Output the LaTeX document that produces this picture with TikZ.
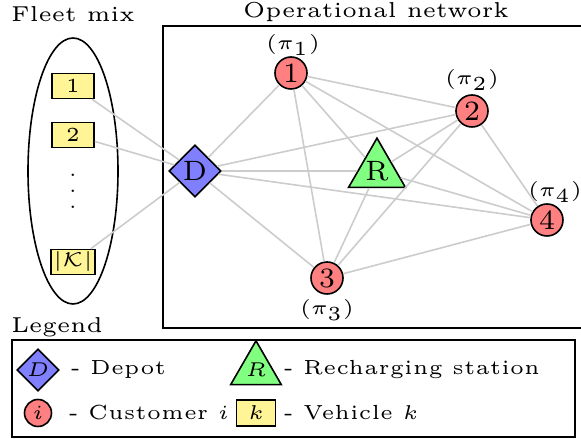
\documentclass[tikz,border=0pt]{standalone}
\usepackage{amsmath}
\usepackage{amsfonts}
\usepackage{fontspec}
\usepackage{tikz}
\usetikzlibrary{shapes.geometric}

\newfontfamily\labelfont{lmroman5-regular}[Extension=.otf]
\newcommand{\lbl}{\fontsize{5.4}{6.5}\selectfont\labelfont}
\newcommand{\legendtxt}{\fontsize{5.1}{6.5}\selectfont\labelfont\addfontfeature{LetterSpace=2}}

\definecolor{vehyellow}{RGB}{255,245,150}

\tikzset{
	customer/.style={circle, draw, fill=red!50, minimum size=8pt, inner sep=0pt, font=\scriptsize},
	depot/.style={diamond, draw, fill=blue!50, minimum size=13pt, inner sep=0pt, font=\scriptsize},
	station/.style={regular polygon, regular polygon sides=3, draw, fill=green!50, minimum size=14.7pt, inner sep=0pt, font=\scriptsize},
	vehicle/.style={rectangle, draw, fill=vehyellow, minimum width=10.5pt, minimum height=6.25pt, inner sep=0.5pt, font=\tiny},
	link/.style={draw=black!20, line width=0.4pt},
	caption/.style={font=\lbl, inner sep=0pt},
	legendtext/.style={font=\legendtxt, inner sep=0pt, anchor=west}
}

\begin{document}
\begin{tikzpicture}[x=0.25pt,y=0.25pt]
				\useasboundingbox (0,0) rectangle (581,439);
				% fleet mix
				\node[caption] (fleetlbl) at (73,425) {Fleet mix};
				\draw (73,268) ellipse [x radius=45, y radius=133];
				\node[vehicle] (v1) at (73,353) {1};
				\node[vehicle] (v2) at (73,304) {2};
				\node[font=\tiny, inner sep=0pt] (vdots) at (73,260) {$\vdots$};
				\node[vehicle] (vK) at (73,177) {$|\mathcal{K}|$};
				% operational network
				\node[caption] (netlbl) at (376,427) {Operational network};
				\draw (163,413) rectangle (582,111);
				\node[depot] (D) at (195,268) {D};
				\node[station] (R) at (377,268) {R};
				\node[customer] (c1) at (291,366) {1};
				\node[customer] (c2) at (472,328) {2};
				\node[customer] (c3) at (327,161) {3};
				\node[customer] (c4) at (547,219) {4};
				\node[caption, font=\tiny] (p1) at (293,394) {$(\pi_1)$};
				\node[caption, font=\tiny] (p2) at (472,359) {$(\pi_2)$};
				\node[caption, font=\tiny] (p3) at (327,129) {$(\pi_3)$};
				\node[caption, font=\tiny] (p4) at (555,247) {$(\pi_4)$};
				% vehicles leave from the depot
				\foreach \v in {v1,v2,vK}
					\draw[link] (\v) -- (D);
				% every pair of network nodes is linked
				\foreach \a/\b in {D/c1,D/c2,D/c3,D/c4,D/R,c1/c2,c1/c3,c1/c4,c1/R,c2/c3,c2/c4,c2/R,c3/c4,c3/R,c4/R}
					\draw[link] (\a) -- (\b);
				% legend
				\node[caption] (leglbl) at (57,112) {Legend};
				\draw (12,99) rectangle (575,2);
				\node[depot, minimum size=10.5pt, font=\tiny] (lD) at (38,69) {$D$};
				\node[legendtext] at (70,69) {- Depot};
				\node[station, minimum size=12pt, font=\tiny] (lR) at (256,69) {$R$};
				\node[legendtext] at (283,69) {- Recharging station};
				\node[customer, minimum size=6.75pt, font=\tiny] (li) at (38,26) {$i$};
				\node[legendtext] at (68,26) {- Customer $i$};
				\node[vehicle, minimum width=9.75pt, minimum height=6.5pt] (lk) at (256,26) {$k$};
				\node[legendtext] at (283,26) {- Vehicle $k$};
			\end{tikzpicture}
\end{document}
